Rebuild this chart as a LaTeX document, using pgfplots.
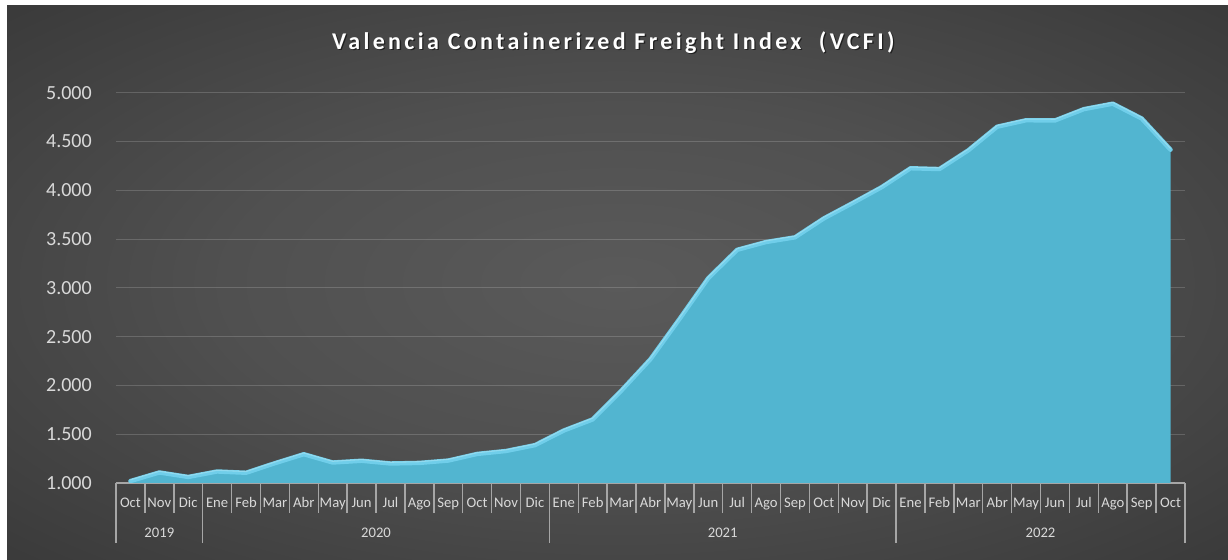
\documentclass[border=0pt]{standalone}
\usepackage{fontspec}
\setmainfont{Carlito}
\newfontfamily\titlefont[LetterSpace=14]{Carlito}
\usepackage{pgfplots}
\pgfplotsset{compat=1.18}
\definecolor{bgA}{RGB}{90,90,90}
\definecolor{bgB}{RGB}{80,80,80}
\definecolor{bgC}{RGB}{42,42,42}
\definecolor{bgD}{RGB}{33,33,33}
\definecolor{areablue}{RGB}{82,181,208}
\definecolor{edgeblue}{RGB}{112,206,234}
\definecolor{labc}{RGB}{217,217,217}
\definecolor{sepc}{RGB}{166,166,166}
\pgfdeclareradialshading{chartbg}{\pgfpoint{0bp}{0bp}}{color(0bp)=(bgA); color(16bp)=(bgB); color(50bp)=(bgC); color(72bp)=(bgD)}

\pgfplotstableread{
x y
0 1020
1 1108
2 1062
3 1118
4 1105
5 1203
6 1295
7 1210
8 1228
9 1200
10 1206
11 1230
12 1298
13 1328
14 1388
15 1538
16 1652
17 1950
18 2270
19 2680
20 3100
21 3390
22 3470
23 3518
24 3712
25 3870
26 4032
27 4226
28 4218
29 4410
30 4652
31 4718
32 4716
33 4832
34 4888
35 4736
36 4416
}\vcfi

\begin{document}
\begin{tikzpicture}
\useasboundingbox (0,0) rectangle (921pt,420pt);
\fill[white] (0,0) rectangle (921pt,420pt);
\shade[shading=chartbg] (5.25pt,0) rectangle (921pt,415.5pt);
\node[text=black, opacity=0.55, font=\titlefont\bfseries\fontsize{18}{18}\selectfont] at (461pt,386.9pt) {Valencia Containerized Freight Index\ \ (VCFI)};
\node[text=white, font=\titlefont\bfseries\fontsize{18}{18}\selectfont] at (460pt,387.7pt) {Valencia Containerized Freight Index\ \ (VCFI)};
\begin{axis}[
  at={(87pt,57.75pt)}, anchor=south west,
  scale only axis, width=801.75pt, height=292.7pt,
  xmin=-0.5, xmax=36.5, ymin=1000, ymax=5000,
  clip mode=individual,
  axis x line*=bottom, axis y line*=left,
  x axis line style={draw=sepc, line width=1pt, -},
  y axis line style={draw=none},
  tick align=outside,
  major tick length=0pt,
  minor tick length=22.5pt,
  ytick={1000,1500,2000,2500,3000,3500,4000,4500,5000},
  yticklabels={1.000,1.500,2.000,2.500,3.000,3.500,4.000,4.500,5.000},
  yticklabel style={anchor=east, inner sep=0pt, xshift=-18pt, text=labc, font=\fontsize{15}{15}\selectfont},
  ymajorgrids,
  grid style={white, opacity=0.17, line width=0.8pt},
  xtick={0,...,36},
  xticklabels={Oct,Nov,Dic,Ene,Feb,Mar,Abr,May,Jun,Jul,Ago,Sep,Oct,Nov,Dic,Ene,Feb,Mar,Abr,May,Jun,Jul,Ago,Sep,Oct,Nov,Dic,Ene,Feb,Mar,Abr,May,Jun,Jul,Ago,Sep,Oct},
  minor xtick={-0.5,0.5,...,36.5},
  tick style={draw=sepc, line width=1.1pt},
  xticklabel style={anchor=center, inner sep=0pt, text height=1.5ex, text depth=0.3ex, yshift=-15.75pt, text=labc, font=\fontsize{11}{11}\selectfont},
  extra x ticks={-0.5,2.5,14.5,26.5,36.5},
  extra x tick labels={},
  extra x tick style={major tick length=45pt, grid=none},
]
\addplot[fill=areablue, draw=none] table[x=x,y=y] {\vcfi} \closedcycle;
\addplot[draw=edgeblue, line width=3.3pt, line join=round, line cap=round] table[x=x,y=y] {\vcfi};
\addplot[draw=white, opacity=0.25, line width=0.8pt, line join=round, yshift=0.9pt] table[x=x,y=y] {\vcfi};
\node[text=labc, font=\fontsize{11}{11}\selectfont] at (axis cs:1,1000) [yshift=-37.5pt] {2019};
\node[text=labc, font=\fontsize{11}{11}\selectfont] at (axis cs:8.5,1000) [yshift=-37.5pt] {2020};
\node[text=labc, font=\fontsize{11}{11}\selectfont] at (axis cs:20.5,1000) [yshift=-37.5pt] {2021};
\node[text=labc, font=\fontsize{11}{11}\selectfont] at (axis cs:31.5,1000) [yshift=-37.5pt] {2022};
\end{axis}
\end{tikzpicture}
\end{document}
